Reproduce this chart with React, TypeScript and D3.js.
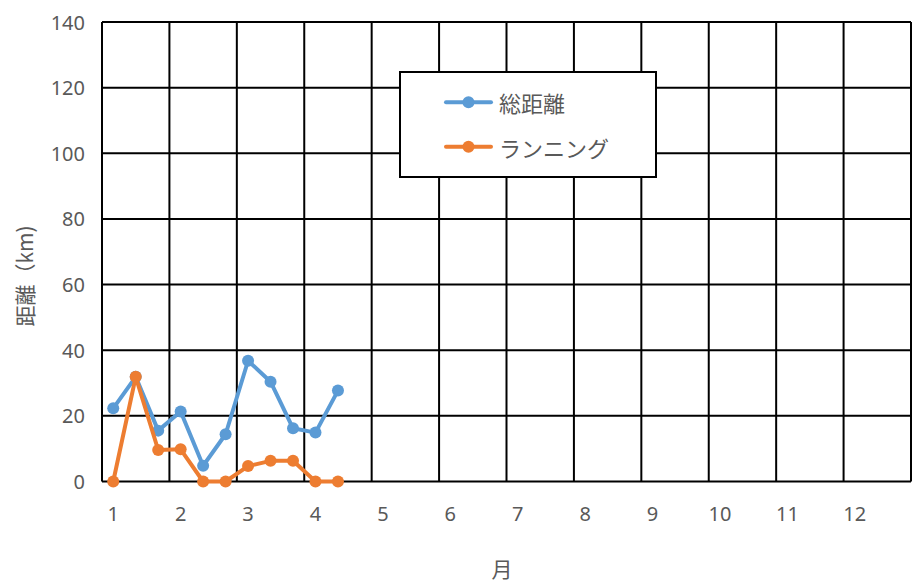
import React from "react";
import * as d3 from "d3";

const months = [1, 4 / 3, 5 / 3, 2, 7 / 3, 8 / 3, 3, 10 / 3, 11 / 3, 4, 13 / 3];
const totalDistance = [22.3, 31.9, 15.5, 21.3, 4.8, 14.4, 36.8, 30.4, 16.2, 14.9, 27.7];
const running = [0, 31.9, 9.6, 9.8, 0, 0, 4.7, 6.3, 6.3, 0, 0];
const xTicks = [1, 2, 3, 4, 5, 6, 7, 8, 9, 10, 11, 12];
const yTicks = [0, 20, 40, 60, 80, 100, 120, 140];
const seriesNames = ["総距離", "ランニング"];
const colors = ["#5B9BD5", "#ED7D31"];

const W = 915;
const H = 588;
const left = 102;
const right = 911;
const top = 22;
const bottom = 481.5;

export default function App() {
  const x = d3.scaleLinear().domain([5 / 6, 12 + 5 / 6]).range([left, right]);
  const y = d3.scaleLinear().domain([0, 140]).range([bottom, top]);
  const line = d3
    .line<[number, number]>()
    .x((d) => x(d[0]))
    .y((d) => y(d[1]));
  const series = [totalDistance, running].map((vals) =>
    months.map((m, i) => [m, vals[i]] as [number, number])
  );
  const gridX = xTicks.map((t) => t - 1 / 6).concat([12 + 5 / 6]);
  const numFont = "'Noto Sans', 'Open Sans', sans-serif";
  const cjkFont = "'Noto Sans CJK JP', 'Noto Sans', sans-serif";
  const textColor = "#595959";

  return (
    <svg
      width={W}
      height={H}
      style={{ position: "absolute", left: 0, top: 0, background: "#fff" }}
    >
      <rect x={0} y={0} width={W} height={H} fill="#fff" />
      {yTicks.map((t) => (
        <line key={"gy" + t} x1={left} x2={right} y1={y(t)} y2={y(t)} stroke="#000" strokeWidth={2} />
      ))}
      {gridX.map((g, i) => (
        <line key={"gx" + i} x1={x(g)} x2={x(g)} y1={top} y2={bottom} stroke="#000" strokeWidth={2} />
      ))}
      {yTicks.map((t) => (
        <text
          key={"yl" + t}
          x={85}
          y={y(t)}
          textAnchor="end"
          dominantBaseline="central"
          fontFamily={numFont}
          fontSize={20}
          fill={textColor}
        >
          {t}
        </text>
      ))}
      {xTicks.map((t) => (
        <text
          key={"xl" + t}
          x={x(t)}
          y={513}
          textAnchor="middle"
          dominantBaseline="central"
          fontFamily={numFont}
          fontSize={20}
          fill={textColor}
        >
          {t}
        </text>
      ))}
      <text
        transform={`translate(24,276) rotate(-90)`}
        textAnchor="middle"
        dominantBaseline="central"
        fontFamily={cjkFont}
        fontSize={21}
        fill={textColor}
      >
        距離（km)
      </text>
      <text
        x={502}
        y={568}
        textAnchor="middle"
        dominantBaseline="central"
        fontFamily={cjkFont}
        fontSize={21}
        fill={textColor}
      >
        月
      </text>
      {series.map((s, si) => (
        <g key={"s" + si}>
          <path d={line(s) || ""} fill="none" stroke={colors[si]} strokeWidth={4} strokeLinejoin="round" />
          {s.map((p, i) => (
            <circle key={i} cx={x(p[0])} cy={y(p[1])} r={6} fill={colors[si]} />
          ))}
        </g>
      ))}
      <rect x={400} y={72} width={256} height={105} fill="#fff" stroke="#000" strokeWidth={2} />
      {seriesNames.map((name, i) => {
        const ly = i === 0 ? 102.3 : 146.7;
        return (
          <g key={"lg" + i}>
            <line x1={446} x2={491} y1={ly} y2={ly} stroke={colors[i]} strokeWidth={4} strokeLinecap="round" />
            <circle cx={468.5} cy={ly} r={6} fill={colors[i]} />
            <text
              x={499}
              y={ly}
              dominantBaseline="central"
              fontFamily={cjkFont}
              fontSize={22}
              fill={textColor}
            >
              {name}
            </text>
          </g>
        );
      })}
    </svg>
  );
}
